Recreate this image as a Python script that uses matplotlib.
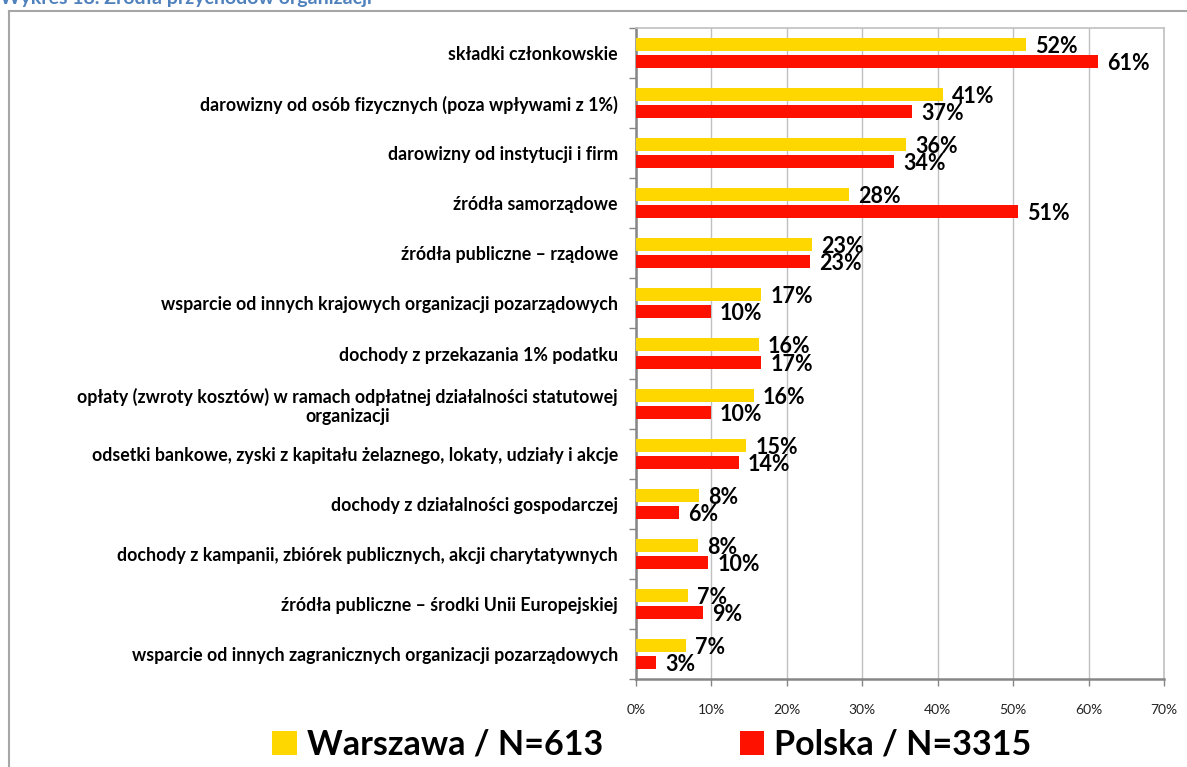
import matplotlib
matplotlib.use("Agg")
import matplotlib.pyplot as plt
from matplotlib.lines import Line2D
from matplotlib.patches import Patch
import numpy as np

plt.rcParams['font.family'] = ['Lato', 'DejaVu Sans']

categories = [
    "składki członkowskie",
    "darowizny od osób fizycznych (poza wpływami z 1%)",
    "darowizny od instytucji i firm",
    "źródła samorządowe",
    "źródła publiczne – rządowe",
    "wsparcie od innych krajowych organizacji pozarządowych",
    "dochody z przekazania 1% podatku",
    "opłaty (zwroty kosztów) w ramach odpłatnej działalności statutowej\norganizacji",
    "odsetki bankowe, zyski z kapitału żelaznego, lokaty, udziały i akcje",
    "dochody z działalności gospodarczej",
    "dochody z kampanii, zbiórek publicznych, akcji charytatywnych",
    "źródła publiczne – środki Unii Europejskiej",
    "wsparcie od innych zagranicznych organizacji pozarządowych",
]
warszawa = [51.7, 40.7, 35.8, 28.2, 23.3, 16.6, 16.3, 15.6, 14.6, 8.4, 8.2, 6.9, 6.6]
polska = [61.3, 36.6, 34.2, 50.7, 23.1, 9.9, 16.6, 9.9, 13.6, 5.7, 9.6, 8.9, 2.7]
series_names = ["Warszawa / N=613", "Polska / N=3315"]
xticks = [0, 10, 20, 30, 40, 50, 60, 70]

c_w = "#FFD700"
c_p = "#FF1100"

W, H = 1187, 767
fig = plt.figure(figsize=(W / 100, H / 100), dpi=100)
ax = fig.add_axes([636 / W, 1 - 679 / H, (1164 - 636) / W, (679 - 28) / H])

y = np.arange(len(categories))
bh = 0.26
off = 0.17
bars_w = ax.barh(y - off, warszawa, height=bh, color=c_w, zorder=3)
bars_p = ax.barh(y + off, polska, height=bh, color=c_p, zorder=3)

for rect, v in zip(bars_w, warszawa):
    ax.annotate(f"{v:.0f}%", (rect.get_width(), rect.get_y() + rect.get_height() / 2),
                xytext=(9, -2), textcoords="offset pixels", ha="left", va="center",
                fontsize=15.5, fontweight="bold", color="black", zorder=5)
for rect, v in zip(bars_p, polska):
    ax.annotate(f"{v:.0f}%", (rect.get_width(), rect.get_y() + rect.get_height() / 2),
                xytext=(9, -2), textcoords="offset pixels", ha="left", va="center",
                fontsize=15.5, fontweight="bold", color="black", zorder=5)

ax.set_xlim(0, 70)
ax.set_ylim(len(categories) - 0.5, -0.5)
ax.set_xticks(xticks)
ax.set_xticklabels([f"{t}%" for t in xticks], fontsize=10, color="#222222")
ax.tick_params(axis="x", length=5, width=1, color="#868686", direction="out", pad=13)

ax.set_yticks(y)
ax.set_yticklabels(categories, fontsize=12.8, fontweight="bold", multialignment="center")
ax.tick_params(axis="y", length=0, pad=13)
ax.set_yticks(np.arange(-0.5, len(categories) + 0.5, 1), minor=True)
ax.tick_params(axis="y", which="minor", length=5, width=1, color="#868686", direction="out")

ax.grid(axis="x", color="#C0C0C0", linewidth=1, zorder=0)
ax.set_axisbelow(True)
for s in ["top", "right"]:
    ax.spines[s].set_color("#C0C0C0")
    ax.spines[s].set_linewidth(1.2)
for s in ["left", "bottom"]:
    ax.spines[s].set_color("#868686")
    ax.spines[s].set_linewidth(1.8)

# outer chart frame
fig.add_artist(Line2D([9 / W, 9 / W], [0, 1 - 11 / H], color="#A6A6A6", linewidth=1.5, transform=fig.transFigure))
fig.add_artist(Line2D([9 / W, 1], [1 - 11 / H, 1 - 11 / H], color="#A6A6A6", linewidth=1.5, transform=fig.transFigure))

# title (partially cut off at the top)
fig.text(0.0, 1 - 4 / H, "Wykres 18. Źródła przychodów organizacji", color="#4F81BD",
         fontsize=14, fontweight="bold", ha="left", va="baseline")

handles = [Patch(facecolor=c_w, edgecolor="none"), Patch(facecolor=c_p, edgecolor="none")]
leg = fig.legend(handles, series_names, loc="center", bbox_to_anchor=(652 / W, 1 - 745 / H),
                 ncol=2, frameon=False, prop={"family": ["Lato", "DejaVu Sans"], "weight": "bold", "size": 24.5},
                 handlelength=0.72, handleheight=0.72, handletextpad=0.3, columnspacing=4.0,
                 borderaxespad=0, borderpad=0)

fig.savefig("out.png", dpi=100)
